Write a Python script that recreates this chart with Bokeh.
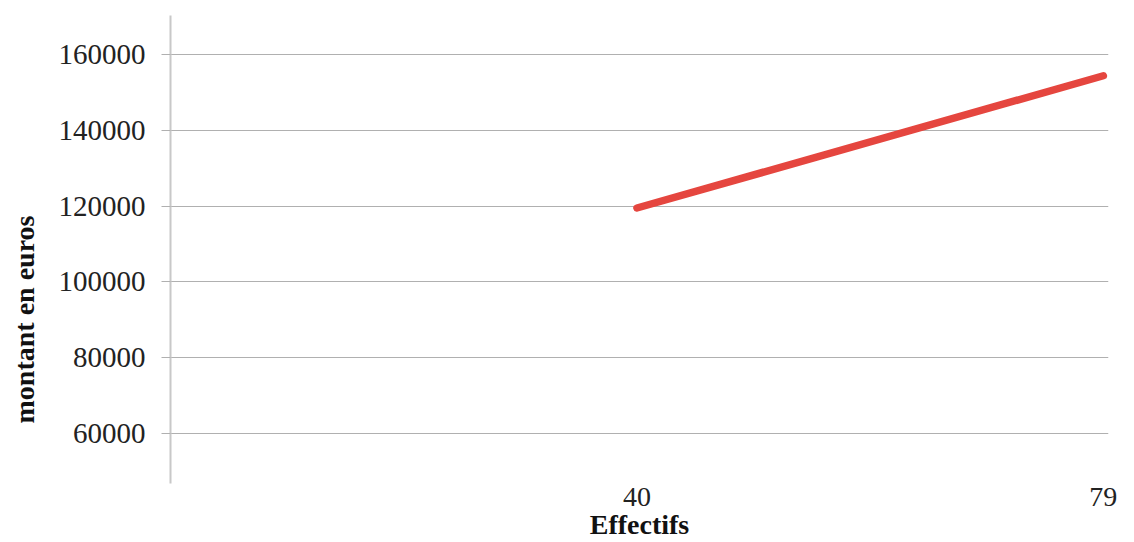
from bokeh.plotting import figure
from bokeh.models import FixedTicker, Range1d
from bokeh.embed import file_html
from bokeh.resources import INLINE

# Data
x_positions = [1, 2]
x_labels = ["40", "79"]
montants = [119500, 154400]
y_ticks = [60000, 80000, 100000, 120000, 140000, 160000]
y_title = "montant en euros"
x_title = "Effectifs"

FONT = "Liberation Serif"

p = figure(width=1134, height=542, output_backend="svg", toolbar_location=None,
           x_range=Range1d(0, 2.011), y_range=Range1d(46800, 170300))
p.min_border_left = 170
p.min_border_right = 26
p.min_border_top = 15
p.min_border_bottom = 58
p.outline_line_color = None
p.background_fill_color = "white"
p.border_fill_color = "white"

p.line(x_positions, montants, line_color="#e5463f", line_width=7.5, line_cap="round")

# x axis
xa = p.xaxis[0]
xa.ticker = FixedTicker(ticks=x_positions)
xa.major_label_overrides = {x: l for x, l in zip(x_positions, x_labels)}
xa.axis_line_color = None
xa.major_tick_line_color = None
xa.minor_tick_line_color = None
xa.major_tick_out = 0
xa.major_label_standoff = 4
xa.major_label_text_font = FONT
xa.major_label_text_font_size = "28px"
xa.major_label_text_color = "#222222"
xa.axis_label = x_title
xa.axis_label_text_font = FONT
xa.axis_label_text_font_style = "bold"
xa.axis_label_text_font_size = "28px"
xa.axis_label_text_color = "#111111"
xa.axis_label_standoff = 0

# y axis
ya = p.yaxis[0]
ya.ticker = FixedTicker(ticks=y_ticks)
ya.formatter.use_scientific = False
ya.axis_line_color = "#c8c8c8"
ya.axis_line_width = 2
ya.major_tick_line_color = "#b0b0b0"
ya.major_tick_out = 9
ya.major_tick_in = 0
ya.minor_tick_line_color = None
ya.major_label_standoff = 16
ya.major_label_text_font = FONT
ya.major_label_text_font_size = "29px"
ya.major_label_text_color = "#222222"
# trailing non-breaking spaces push the title lower, as in the reference
ya.axis_label = y_title + "\u00a0" * 20
ya.axis_label_text_font = FONT
ya.axis_label_text_font_style = "bold"
ya.axis_label_text_font_size = "28px"
ya.axis_label_text_color = "#111111"
ya.axis_label_standoff = 16

p.xgrid.grid_line_color = None
p.ygrid.ticker = FixedTicker(ticks=y_ticks)
p.ygrid.grid_line_color = "#b0b0b0"
p.ygrid.grid_line_width = 1

open("out.html", "w").write(file_html(p, INLINE))
